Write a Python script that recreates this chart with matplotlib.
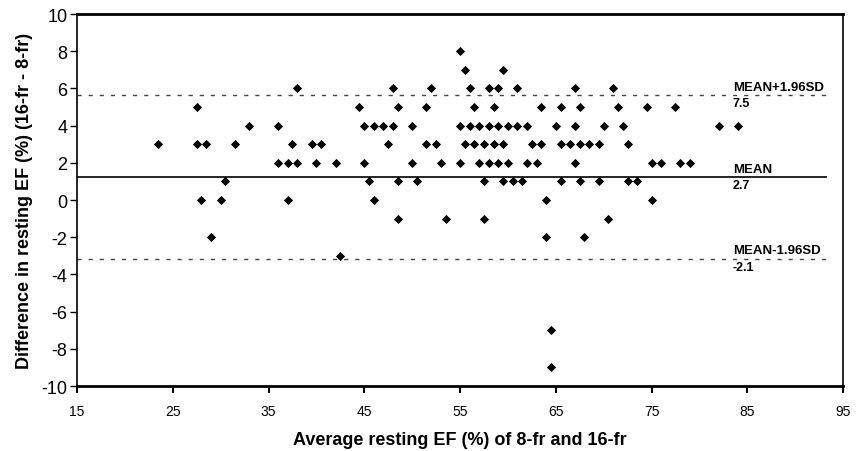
import matplotlib
matplotlib.use("Agg")
import matplotlib.pyplot as plt

# ---- data ----
diff_levels = [8, 7, 6, 5, 4, 3, 2, 1, 0, -1, -2, -3, -7, -9]
avg_at_8 = [55]
avg_at_7 = [55.5, 59.5]
avg_at_6 = [38, 48, 52, 56, 58, 59, 61, 67, 71]
avg_at_5 = [27.5, 44.5, 48.5, 51.5, 56.5, 58.5, 63.5, 65.5, 67.5, 71.5, 74.5, 77.5]
avg_at_4 = [33, 36, 45, 46, 47, 48, 50, 55, 56, 57, 58, 59, 60, 61, 62, 65, 67, 70, 72, 82, 84]
avg_at_3 = [23.5, 27.5, 28.5, 31.5, 37.5, 39.5, 40.5, 47.5, 51.5, 52.5, 55.5, 56.5, 57.5,
            58.5, 59.5, 62.5, 63.5, 65.5, 66.5, 67.5, 68.5, 69.5, 72.5]
avg_at_2 = [36, 37, 38, 40, 42, 45, 50, 53, 55, 57, 58, 59, 60, 62, 63, 67, 75, 76, 78, 79]
avg_at_1 = [30.5, 45.5, 48.5, 50.5, 57.5, 59.5, 60.5, 61.5, 65.5, 67.5, 69.5, 72.5, 73.5]
avg_at_0 = [28, 30, 37, 46, 64, 75]
avg_at_m1 = [48.5, 53.5, 57.5, 70.5]
avg_at_m2 = [29, 64, 68]
avg_at_m3 = [42.5]
avg_at_m7 = [64.5]
avg_at_m9 = [64.5]
avg_groups = [avg_at_8, avg_at_7, avg_at_6, avg_at_5, avg_at_4, avg_at_3, avg_at_2,
              avg_at_1, avg_at_0, avg_at_m1, avg_at_m2, avg_at_m3, avg_at_m7, avg_at_m9]

mean_value = 1.25
upper_limit = 5.65
lower_limit = -3.15
line_labels = ["MEAN+1.96SD", "MEAN", "MEAN-1.96SD"]
line_value_labels = ["7.5", "2.7", "-2.1"]

x_ticks = [15, 25, 35, 45, 55, 65, 75, 85, 95]
y_ticks = [-10, -8, -6, -4, -2, 0, 2, 4, 6, 8, 10]

avg_ef = []
diff_ef = []
for d, xs in zip(diff_levels, avg_groups):
    avg_ef.extend(xs)
    diff_ef.extend([d] * len(xs))

# ---- figure ----
plt.rcParams['font.family'] = ['Liberation Sans', 'DejaVu Sans']
plt.rcParams['axes.unicode_minus'] = False
fig = plt.figure(figsize=(8.62, 4.52), dpi=100)
ax = fig.add_axes([77 / 862, 1 - 387 / 452, 766 / 862, 372 / 452])

line_end = 93.3
ax.hlines(mean_value, 15, line_end, colors='black', linewidth=1.2)
ax.hlines([upper_limit, lower_limit], 15, line_end, colors='#444444',
          linewidth=1.0, linestyles=(0, (3, 5)))

ax.plot(avg_ef, diff_ef, linestyle='none', marker='D', markersize=3.7,
        color='black', markeredgewidth=0.6)

label_x = 83.5
for yv, lab, val in zip([upper_limit, mean_value, lower_limit], line_labels, line_value_labels):
    ax.text(label_x, yv + 0.12, lab, fontsize=9.5, fontweight='bold',
            ha='left', va='bottom')
    ax.text(label_x, yv - 0.12, val, fontsize=9, fontweight='bold',
            ha='left', va='top')

ax.set_xlim(15, 95)
ax.set_ylim(-10, 10)
ax.set_xticks(x_ticks)
ax.set_yticks(y_ticks)
ax.tick_params(axis='x', direction='out', length=5, width=1.5, labelsize=10, pad=8)
ax.tick_params(axis='y', direction='out', length=5, width=1, labelsize=13, pad=2)

ax.spines['top'].set_linewidth(2)
ax.spines['bottom'].set_linewidth(2)
ax.spines['left'].set_linewidth(1.2)
ax.spines['right'].set_linewidth(1.2)

ax.set_xlabel("Average resting EF (%) of 8-fr and 16-fr", fontsize=13, fontweight='bold')
ax.set_ylabel("Difference in resting EF (%) (16-fr - 8-fr)", fontsize=13, fontweight='bold')
ax.xaxis.set_label_coords(0.5, -0.12)
ax.yaxis.set_label_coords(-0.058, 0.5)
ax.xaxis.label.set_va('top')

fig.savefig("out.png", dpi=100)
